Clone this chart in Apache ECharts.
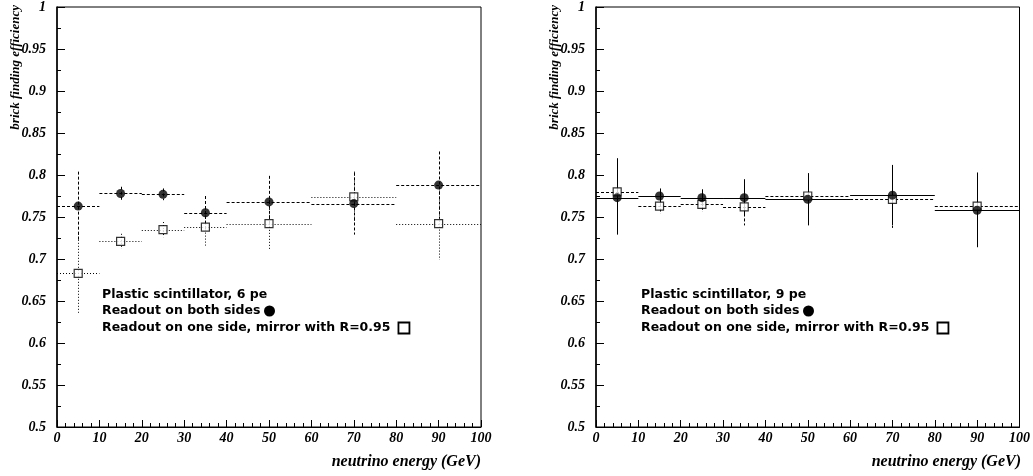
<!DOCTYPE html>
<html>
<head>
<meta charset="utf-8">
<script src="https://cdn.jsdelivr.net/npm/echarts@6/dist/echarts.min.js"></script>
<style>
  html, body { margin: 0; padding: 0; background: #fff; }
  #chart { width: 1033px; height: 476px; }
</style>
</head>
<body>
<div id="chart"></div>
<script>
// Neutrino energy bins (GeV): centres and half-widths
const binCenters    = [5, 15, 25, 35, 50, 70, 90];
const binHalfWidths = [5, 5, 5, 5, 10, 10, 10];

// Plastic scintillator, 6 pe
const pe6BothEff = [0.763, 0.778, 0.777, 0.755, 0.768, 0.766, 0.788];
const pe6BothErr = [0.041, 0.008, 0.007, 0.020, 0.031, 0.037, 0.040];
const pe6OneEff  = [0.683, 0.721, 0.735, 0.738, 0.742, 0.774, 0.742];
const pe6OneErr  = [0.047, 0.009, 0.009, 0.022, 0.032, 0.030, 0.043];

// Plastic scintillator, 9 pe
const pe9BothEff = [0.773, 0.775, 0.773, 0.773, 0.771, 0.776, 0.758];
const pe9BothErr = [0.044, 0.009, 0.010, 0.022, 0.031, 0.036, 0.044];
const pe9OneEff  = [0.780, 0.763, 0.765, 0.762, 0.775, 0.771, 0.763];
const pe9OneErr  = [0.040, 0.009, 0.009, 0.022, 0.027, 0.034, 0.040];

// Axis ranges and tick steps
const xRange = [0, 100], xStep = 10;
const yRange = [0.5, 1], yStep = 0.05;

const panelTitles = ['Plastic scintillator, 6 pe', 'Plastic scintillator, 9 pe'];
const legendBoth = 'Readout on both sides';
const legendOne  = 'Readout on one side, mirror with R=0.95';
const yTitle = 'brick finding efficiency';
const xTitle = 'neutrino energy (GeV)';

const SERIF = '"Liberation Serif", "Times New Roman", serif';
const labelFont = { fontFamily: SERIF, fontWeight: 'bold', fontStyle: 'italic', fontSize: 14, color: '#000' };

const grids = [
  { left: 57,  top: 5, width: 424, height: 422 },
  { left: 596, top: 5, width: 425, height: 422 }
];

function xAxisFor(i) {
  return {
    gridIndex: i, type: 'value', min: xRange[0], max: xRange[1], interval: xStep,
    axisLine: { show: true, onZero: false, lineStyle: { color: '#000', width: 1 } },
    axisTick: { show: true, inside: true, length: 7, lineStyle: { color: '#000' } },
    minorTick: { show: true, splitNumber: 5, length: 4, lineStyle: { color: '#000' } },
    splitLine: { show: false },
    axisLabel: Object.assign({ margin: 4 }, labelFont)
  };
}
function yAxisFor(i) {
  return {
    gridIndex: i, type: 'value', min: yRange[0], max: yRange[1], interval: yStep,
    axisLine: { show: true, onZero: false, lineStyle: { color: '#000', width: 1.5 } },
    axisTick: { show: true, inside: true, length: 8, lineStyle: { color: '#000' } },
    minorTick: { show: true, splitNumber: 2, length: 4, lineStyle: { color: '#000' } },
    splitLine: { show: false },
    axisLabel: Object.assign({ margin: 11 }, labelFont)
  };
}

// Horizontal bin-width bar plus vertical error bar for every point
function errorBars(panel, eff, err, dash) {
  return {
    type: 'custom', xAxisIndex: panel, yAxisIndex: panel, silent: true, z: 2,
    data: binCenters.map((c, i) => [c, eff[i], binHalfWidths[i], err[i]]),
    renderItem(params, api) {
      const x = api.value(0), y = api.value(1), hw = api.value(2), e = api.value(3);
      const a = api.coord([x - hw, y]), b = api.coord([x + hw, y]);
      const t = api.coord([x, y + e]), u = api.coord([x, y - e]);
      const yy = Math.round(a[1]) + 0.5, xx = Math.round(t[0]) + 0.5;
      const style = { stroke: '#000', lineWidth: 1, lineDash: dash };
      return {
        type: 'group',
        children: [
          { type: 'line', shape: { x1: a[0], y1: yy, x2: b[0], y2: yy }, style },
          { type: 'line', shape: { x1: xx, y1: t[1], x2: xx, y2: u[1] }, style }
        ]
      };
    }
  };
}

function markers(panel, eff, filled) {
  return {
    type: 'scatter', xAxisIndex: panel, yAxisIndex: panel, silent: true, z: 3,
    symbol: filled ? 'circle' : 'rect',
    symbolSize: filled ? 9 : 8,
    itemStyle: filled
      ? { color: '#000' }
      : { color: '#fff', borderColor: '#000', borderWidth: 1.2 },
    data: binCenters.map((c, i) => [c, eff[i]])
  };
}

const DASH = [3, 2], DOT = [1, 2];

// Text blocks and legend glyphs for each panel
const LEGEND_FONT = 'bold 12.5px "DejaVu Sans", Lato, sans-serif';
function panelGraphics(i) {
  const g = grids[i];
  const tx = g.left + 45;
  const els = [
    { type: 'text', x: g.left - 41, y: g.top, rotation: Math.PI / 2,
      style: { text: yTitle, textAlign: 'right', textVerticalAlign: 'middle',
               font: 'italic bold 13px ' + SERIF, fill: '#000' } },
    { type: 'text', x: g.left + g.width, y: 462,
      style: { text: xTitle, textAlign: 'right', textVerticalAlign: 'middle',
               font: 'italic bold 16px ' + SERIF, fill: '#000' } },
    { type: 'text', x: tx, y: 295,
      style: { text: panelTitles[i], textAlign: 'left', textVerticalAlign: 'middle', font: LEGEND_FONT, fill: '#000' } },
    { type: 'text', x: tx, y: 311,
      style: { text: legendBoth, textAlign: 'left', textVerticalAlign: 'middle', font: LEGEND_FONT, fill: '#000' } },
    { type: 'text', x: tx, y: 328,
      style: { text: legendOne, textAlign: 'left', textVerticalAlign: 'middle', font: LEGEND_FONT, fill: '#000' } }
  ];
  // place the glyphs right after the measured legend text
  const ctx = document.createElement('canvas').getContext('2d');
  ctx.font = LEGEND_FONT;
  const wBoth = ctx.measureText(legendBoth).width;
  const wOne = ctx.measureText(legendOne).width;
  els.push({ type: 'circle', shape: { cx: tx + wBoth + 9, cy: 311, r: 5.5 }, style: { fill: '#000' } });
  els.push({ type: 'rect', shape: { x: tx + wOne + 8, y: 322.5, width: 11, height: 11 },
             style: { fill: '#fff', stroke: '#000', lineWidth: 1.8 } });
  return els;
}

const chart = echarts.init(document.getElementById('chart'), null, { renderer: 'canvas' });
chart.setOption({
  animation: false,
  backgroundColor: '#fff',
  grid: grids.map(g => Object.assign({ show: true, borderColor: '#000', borderWidth: 1, backgroundColor: 'transparent' }, g)),
  xAxis: [xAxisFor(0), xAxisFor(1)],
  yAxis: [yAxisFor(0), yAxisFor(1)],
  series: [
    errorBars(0, pe6OneEff, pe6OneErr, DOT),
    errorBars(0, pe6BothEff, pe6BothErr, DASH),
    markers(0, pe6OneEff, false),
    markers(0, pe6BothEff, true),
    errorBars(1, pe9OneEff, pe9OneErr, DASH),
    errorBars(1, pe9BothEff, pe9BothErr, null),
    markers(1, pe9OneEff, false),
    markers(1, pe9BothEff, true)
  ],
  graphic: { elements: panelGraphics(0).concat(panelGraphics(1)) }
});
</script>
</body>
</html>
